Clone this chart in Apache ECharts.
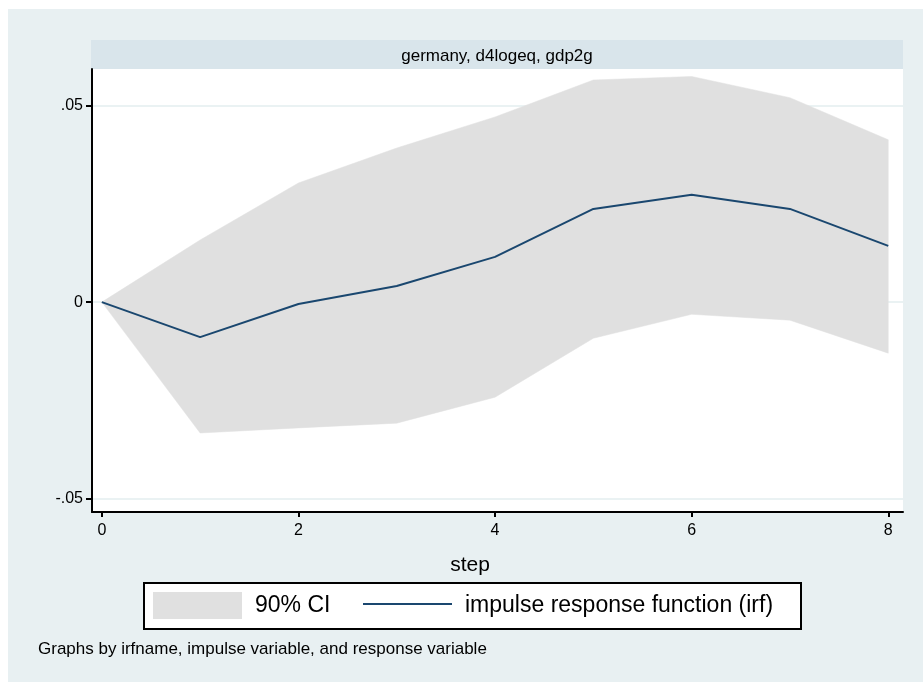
<!DOCTYPE html>
<html>
  <head>
    <meta charset="utf-8" />
    <title>germany, d4logeq, gdp2g</title>
    <script src="https://cdn.jsdelivr.net/npm/echarts@6/dist/echarts.min.js"></script>
    <style>
      html, body { margin: 0; padding: 0; background: #fff; }
    </style>
  </head>
  <body>
    <div id="main" style="width: 923px; height: 682px"></div>

    <script>
      // 数据
      var steps = [0, 1, 2, 3, 4, 5, 6, 7, 8];
      var irf = [0, -0.0089, -0.0005, 0.0041, 0.0115, 0.0237, 0.0273, 0.0237, 0.0143];
      var lower = [0, -0.0333, -0.032, -0.0308, -0.0242, -0.0092, -0.0031, -0.0046, -0.013];
      var upper = [0, 0.0158, 0.0303, 0.0392, 0.0471, 0.0565, 0.0574, 0.052, 0.0413];
      var xTicks = [0, 2, 4, 6, 8];
      var yTicks = [-0.05, 0, 0.05];

      var font = "Liberation Sans";
      var navy = "#1a476f";
      var band = "#e0e0e0";

      var bandData = steps.map(function (s, i) { return [s, lower[i], upper[i]]; });
      var irfData = steps.map(function (s, i) { return [s, irf[i]]; });

      function fmtY(v) {
        if (Math.abs(v) < 1e-9) return "0";
        var s = String(Math.abs(v)).replace(/^0/, "");
        return (v < 0 ? "-" : "") + s;
      }

      // 置信带：在第一个数据点处画出整个多边形
      function renderBand(params, api) {
        if (params.dataIndex !== 0) return;
        var top = [], bottom = [];
        for (var i = 0; i < bandData.length; i++) {
          top.push(api.coord([bandData[i][0], bandData[i][2]]));
          bottom.unshift(api.coord([bandData[i][0], bandData[i][1]]));
        }
        return {
          type: "polygon",
          shape: { points: top.concat(bottom) },
          style: { fill: band, stroke: band, lineWidth: 0.5 },
          silent: true,
        };
      }

      var myChart = echarts.init(document.getElementById("main"));

      var option = {
        backgroundColor: "#e8f0f2",
        animation: false,
        grid: {
          left: 92,
          right: 20,
          top: 69,
          bottom: 170,
          show: true,
          backgroundColor: "#ffffff",
          borderWidth: 0,
        },
        xAxis: {
          type: "value",
          min: -0.1,
          max: 8.15,
          axisLine: { show: true, onZero: false, lineStyle: { color: "#000", width: 2 } },
          axisTick: { show: true, length: 5, customValues: xTicks, lineStyle: { color: "#000", width: 2 } },
          axisLabel: {
            customValues: xTicks,
            color: "#000",
            fontFamily: font,
            fontSize: 16,
            margin: 11,
          },
          splitLine: { show: false },
        },
        yAxis: {
          type: "value",
          min: -0.0534,
          max: 0.0593,
          axisLine: { show: true, onZero: false, lineStyle: { color: "#000", width: 2 } },
          axisTick: { show: true, length: 6, customValues: yTicks, lineStyle: { color: "#000", width: 2 } },
          axisLabel: {
            customValues: yTicks,
            color: "#000",
            fontFamily: font,
            fontSize: 16,
            margin: 9,
            formatter: fmtY,
          },
          splitLine: { show: true, lineStyle: { color: "#eaf2f3", width: 2 } },
        },
        graphic: [
          // 外框白边
          { type: "rect", left: 0, top: 0, shape: { width: 923, height: 9 }, style: { fill: "#fff" }, silent: true },
          { type: "rect", left: 0, top: 0, shape: { width: 8, height: 682 }, style: { fill: "#fff" }, silent: true },
          // 标题条
          { type: "rect", left: 91, top: 40, shape: { width: 812, height: 29 }, style: { fill: "#d9e5eb" }, silent: true },
          {
            type: "text",
            x: 497,
            y: 56,
            style: {
              text: "germany, d4logeq, gdp2g",
              fill: "#000",
              font: "17px '" + font + "'",
              textAlign: "center",
              textVerticalAlign: "middle",
            },
          },
          // x 轴标题
          {
            type: "text",
            x: 470,
            y: 565,
            style: {
              text: "step",
              fill: "#000",
              font: "21px '" + font + "'",
              textAlign: "center",
              textVerticalAlign: "middle",
            },
          },
          // 图例
          {
            type: "rect",
            left: 143,
            top: 582,
            shape: { width: 657, height: 46 },
            style: { fill: "#fff", stroke: "#000", lineWidth: 2 },
          },
          { type: "rect", left: 153, top: 592, shape: { width: 89, height: 27 }, style: { fill: band } },
          {
            type: "text",
            x: 255,
            y: 606,
            style: { text: "90% CI", fill: "#000", font: "23px '" + font + "'", textVerticalAlign: "middle" },
          },
          {
            type: "line",
            shape: { x1: 363, y1: 604, x2: 452, y2: 604 },
            style: { stroke: navy, lineWidth: 2 },
          },
          {
            type: "text",
            x: 465,
            y: 606,
            style: {
              text: "impulse response function (irf)",
              fill: "#000",
              font: "23px '" + font + "'",
              textVerticalAlign: "middle",
            },
          },
          // 注脚
          {
            type: "text",
            x: 38,
            y: 649,
            style: {
              text: "Graphs by irfname, impulse variable, and response variable",
              fill: "#000",
              font: "17px '" + font + "'",
              textVerticalAlign: "middle",
            },
          },
        ],
        series: [
          {
            name: "90% CI",
            type: "custom",
            data: bandData,
            renderItem: renderBand,
            encode: { x: 0, y: [1, 2] },
            silent: true,
            z: 1,
          },
          {
            name: "impulse response function (irf)",
            type: "line",
            data: irfData,
            showSymbol: false,
            lineStyle: { color: navy, width: 2 },
            z: 5,
          },
        ],
      };

      myChart.setOption(option);
    </script>
  </body>
</html>
